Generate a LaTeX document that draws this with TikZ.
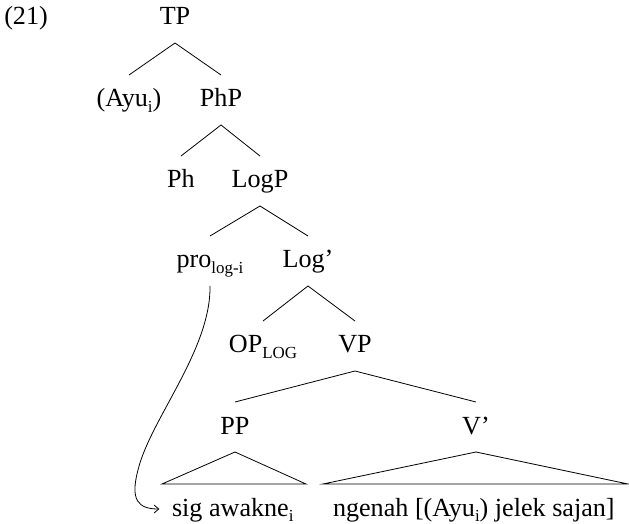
\documentclass[tikz,border=0pt]{standalone}
\usepackage{fontspec}
\setmainfont{Liberation Serif}
\usetikzlibrary{arrows.meta}
\newcommand\lsub[1]{\raisebox{-0.22em}{\fontsize{12.7}{14}\selectfont #1}}
\begin{document}
\begin{tikzpicture}[x=0.75pt, y=-0.75pt,
  font=\fontsize{19.6}{23}\selectfont,
  lbl/.style={anchor=base, inner sep=0pt, outer sep=0pt, text height=24pt, text depth=13.5pt},
  edge/.style={line width=0.6pt}]
\useasboundingbox (0,0) rectangle (629,524);
% labels
\node[anchor=base west, inner sep=0pt] (ex) at (4,25) {(21)};
\node[lbl] (TP) at (175,25) {TP};
\node[lbl] (Ayu) at (129,107) {(Ayu\lsub{i})};
\node[lbl] (PhP) at (221,107) {PhP};
\node[lbl] (Ph) at (181,188) {Ph};
\node[lbl] (LogP) at (260,188) {LogP};
\node[lbl] (pro) at (210,268) {pro\lsub{log-i}};
\node[lbl] (Logbar) at (308,268) {Log’};
\node[lbl] (OP) at (263,353) {OP\lsub{LOG}};
\node[lbl] (VP) at (355,353) {VP};
\node[lbl] (PP) at (235,434) {PP};
\node[lbl] (Vbar) at (476,434) {V’};
\node[lbl, anchor=base west] (sig) at (172,516) {sig awakne\lsub{i}};
\node[lbl, anchor=base west] (ngenah) at (333,516) {ngenah [(Ayu\lsub{i}) jelek sajan]};
% triangle corners
\coordinate (ppL) at (162,484);
\coordinate (ppR) at (306,484);
\coordinate (vL) at (323,484);
\coordinate (vR) at (628,484);
% edges
\draw[edge] (Ayu.north) -- (TP.south) -- (PhP.north);
\draw[edge] (Ph.north) -- (PhP.south) -- (LogP.north);
\draw[edge] (pro.north) -- (LogP.south) -- (Logbar.north);
\draw[edge] (OP.north) -- (Logbar.south) -- (VP.north);
\draw[edge] (PP.north) -- (VP.south) -- (Vbar.north);
\draw[edge] (PP.south) -- (ppR) -- (ppL) -- cycle;
\draw[edge] (Vbar.south) -- (vR) -- (vL) -- cycle;
% binding arrow
\draw[edge, -{Straight Barb[length=3.5pt,width=6pt]}, shorten >=9.5pt]
  (pro.south) .. controls (211,350) and (150,420) .. (138,470)
  .. controls (130,500) and (138,509) .. (sig.west);
\end{tikzpicture}
\end{document}
